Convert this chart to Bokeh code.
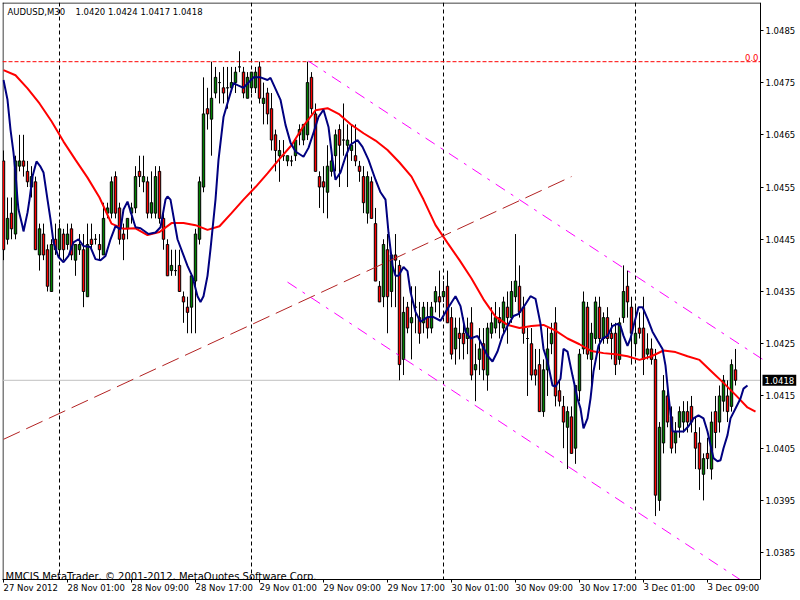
from bokeh.plotting import figure
from bokeh.models import ColumnDataSource, FixedTicker, Span, Label, Range1d, PrintfTickFormatter
from bokeh.embed import file_html
from bokeh.resources import INLINE

# ---------------- data ----------------
symbol_text = "AUDUSD,M30"
last_bar_text = "1.0420 1.0424 1.0417 1.0418"
copyright_text = "MMCIS MetaTrader, \u00a9 2001-2012, MetaQuotes Software Corp."

bar_open = [
    1.0460, 1.0445, 1.0450, 1.0446, 1.0459, 1.0460, 1.0458, 1.0455, 1.0456, 1.0442,
    1.0446, 1.0443, 1.0435, 1.0445, 1.0443, 1.0446, 1.0444, 1.0447, 1.0441, 1.0443,
    1.0443, 1.0434, 1.0445, 1.0445, 1.0444, 1.0442, 1.0450, 1.0450, 1.0457, 1.0451,
    1.0446, 1.0447, 1.0450, 1.0451, 1.0458, 1.0456, 1.0456, 1.0450, 1.0450, 1.0458,
    1.0449, 1.0444, 1.0439, 1.0439, 1.0440, 1.0434, 1.0432, 1.0432, 1.0437, 1.0445,
    1.0455, 1.0470, 1.0468, 1.0473, 1.0475, 1.0474, 1.0474, 1.0474, 1.0475, 1.0478,
    1.0477, 1.0472, 1.0474, 1.0474, 1.0478, 1.0471, 1.0473, 1.0470, 1.0465, 1.0461,
    1.0461, 1.0460, 1.0460, 1.0461, 1.0465, 1.0464, 1.0465, 1.0476, 1.0469, 1.0457,
    1.0456, 1.0454, 1.0458, 1.0461, 1.0466, 1.0464, 1.0463, 1.0462, 1.0461, 1.0459,
    1.0457, 1.0450, 1.0456, 1.0448, 1.0436, 1.0434, 1.0443, 1.0435, 1.0442, 1.0440,
    1.0422, 1.0432, 1.0429, 1.0432, 1.0430, 1.0429, 1.0430, 1.0428, 1.0433, 1.0434,
    1.0434, 1.0436, 1.0430, 1.0424, 1.0427, 1.0427, 1.0426, 1.0429, 1.0420, 1.0422,
    1.0425, 1.0419, 1.0427, 1.0428, 1.0430, 1.0428, 1.0432, 1.0430, 1.0434, 1.0436,
    1.0432, 1.0426, 1.0425, 1.0420, 1.0421, 1.0412, 1.0420, 1.0425, 1.0429, 1.0416,
    1.0413, 1.0409, 1.0411, 1.0405, 1.0416, 1.0424, 1.0432, 1.0422, 1.0426, 1.0432,
    1.0426, 1.0430, 1.0427, 1.0427, 1.0422, 1.0430, 1.0436, 1.0432, 1.0425, 1.0428,
    1.0428, 1.0423, 1.0424, 1.0422, 1.0395, 1.0406, 1.0415, 1.0411, 1.0406, 1.0409,
    1.0410, 1.0412, 1.0413, 1.0408, 1.0406, 1.0400, 1.0404, 1.0401, 1.0412, 1.0410,
    1.0414, 1.0415, 1.0413, 1.0420]

bar_high = [
    1.0462, 1.0453, 1.0453, 1.0461, 1.0465, 1.0465, 1.0460, 1.0459, 1.0457, 1.0448,
    1.0448, 1.0444, 1.0445, 1.0448, 1.0448, 1.0447, 1.0448, 1.0448, 1.0444, 1.0446,
    1.0446, 1.0448, 1.0448, 1.0446, 1.0446, 1.0452, 1.0452, 1.0457, 1.0458, 1.0452,
    1.0448, 1.0449, 1.0452, 1.0459, 1.0461, 1.0461, 1.0457, 1.0458, 1.0459, 1.0459,
    1.0450, 1.0445, 1.0443, 1.0443, 1.0443, 1.0435, 1.0434, 1.0438, 1.0447, 1.0457,
    1.0476, 1.0474, 1.0479, 1.0478, 1.0477, 1.0478, 1.0478, 1.0478, 1.0478, 1.0481,
    1.0478, 1.0477, 1.0477, 1.0478, 1.0479, 1.0475, 1.0474, 1.0473, 1.0466, 1.0464,
    1.0464, 1.0461, 1.0461, 1.0464, 1.0467, 1.0467, 1.0479, 1.0477, 1.0471, 1.0458,
    1.0459, 1.0463, 1.0461, 1.0466, 1.0467, 1.0471, 1.0467, 1.0467, 1.0467, 1.0460,
    1.0459, 1.0458, 1.0457, 1.0451, 1.0437, 1.0445, 1.0446, 1.0442, 1.0446, 1.0441,
    1.0434, 1.0433, 1.0436, 1.0436, 1.0433, 1.0433, 1.0433, 1.0433, 1.0436, 1.0439,
    1.0437, 1.0439, 1.0432, 1.0430, 1.0430, 1.0430, 1.0430, 1.0432, 1.0425, 1.0428,
    1.0428, 1.0429, 1.0432, 1.0433, 1.0432, 1.0434, 1.0435, 1.0437, 1.0446, 1.0440,
    1.0434, 1.0428, 1.0428, 1.0424, 1.0424, 1.0422, 1.0428, 1.0429, 1.0432, 1.0418,
    1.0415, 1.0413, 1.0413, 1.0417, 1.0424, 1.0435, 1.0433, 1.0429, 1.0434, 1.0434,
    1.0431, 1.0432, 1.0429, 1.0429, 1.0430, 1.0440, 1.0439, 1.0434, 1.0432, 1.0431,
    1.0434, 1.0427, 1.0426, 1.0424, 1.0410, 1.0419, 1.0418, 1.0413, 1.0410, 1.0413,
    1.0414, 1.0414, 1.0415, 1.0411, 1.0409, 1.0404, 1.0407, 1.0412, 1.0415, 1.0417,
    1.0419, 1.0418, 1.0422, 1.0424]

bar_low = [
    1.0441, 1.0444, 1.0445, 1.0445, 1.0458, 1.0457, 1.0455, 1.0453, 1.0443, 1.0439,
    1.0441, 1.0435, 1.0435, 1.0442, 1.0442, 1.0441, 1.0443, 1.0441, 1.0438, 1.0442,
    1.0432, 1.0434, 1.0443, 1.0444, 1.0441, 1.0442, 1.0449, 1.0449, 1.0449, 1.0444,
    1.0441, 1.0445, 1.0448, 1.0450, 1.0455, 1.0454, 1.0449, 1.0449, 1.0449, 1.0448,
    1.0443, 1.0438, 1.0438, 1.0438, 1.0435, 1.0429, 1.0427, 1.0427, 1.0427, 1.0444,
    1.0454, 1.0466, 1.0461, 1.0472, 1.0471, 1.0471, 1.0470, 1.0474, 1.0473, 1.0477,
    1.0472, 1.0472, 1.0473, 1.0473, 1.0471, 1.0467, 1.0467, 1.0462, 1.0458, 1.0456,
    1.0460, 1.0459, 1.0459, 1.0460, 1.0463, 1.0463, 1.0464, 1.0469, 1.0458, 1.0451,
    1.0450, 1.0449, 1.0457, 1.0458, 1.0455, 1.0461, 1.0455, 1.0460, 1.0459, 1.0456,
    1.0450, 1.0448, 1.0449, 1.0437, 1.0433, 1.0432, 1.0427, 1.0432, 1.0432, 1.0418,
    1.0419, 1.0427, 1.0422, 1.0427, 1.0425, 1.0427, 1.0426, 1.0427, 1.0431, 1.0430,
    1.0433, 1.0429, 1.0422, 1.0421, 1.0422, 1.0422, 1.0423, 1.0418, 1.0414, 1.0419,
    1.0418, 1.0416, 1.0426, 1.0427, 1.0426, 1.0427, 1.0425, 1.0429, 1.0433, 1.0430,
    1.0425, 1.0415, 1.0418, 1.0417, 1.0412, 1.0411, 1.0415, 1.0423, 1.0413, 1.0413,
    1.0405, 1.0401, 1.0404, 1.0402, 1.0414, 1.0423, 1.0422, 1.0416, 1.0425, 1.0420,
    1.0425, 1.0425, 1.0422, 1.0419, 1.0421, 1.0429, 1.0430, 1.0421, 1.0423, 1.0426,
    1.0419, 1.0422, 1.0421, 1.0392, 1.0393, 1.0404, 1.0409, 1.0404, 1.0404, 1.0407,
    1.0408, 1.0408, 1.0408, 1.0401, 1.0397, 1.0395, 1.0401, 1.0399, 1.0405, 1.0408,
    1.0412, 1.0410, 1.0412, 1.0417]

bar_close = [
    1.0443, 1.0449, 1.0447, 1.0460, 1.0460, 1.0459, 1.0456, 1.0457, 1.0443, 1.0447,
    1.0442, 1.0436, 1.0444, 1.0443, 1.0447, 1.0443, 1.0446, 1.0442, 1.0444, 1.0444,
    1.0435, 1.0444, 1.0444, 1.0445, 1.0443, 1.0449, 1.0451, 1.0456, 1.0450, 1.0445,
    1.0445, 1.0449, 1.0451, 1.0457, 1.0457, 1.0457, 1.0450, 1.0452, 1.0457, 1.0449,
    1.0445, 1.0438, 1.0440, 1.0439, 1.0435, 1.0433, 1.0431, 1.0438, 1.0446, 1.0456,
    1.0469, 1.0469, 1.0472, 1.0476, 1.0475, 1.0473, 1.0474, 1.0475, 1.0477, 1.0478,
    1.0473, 1.0476, 1.0477, 1.0477, 1.0472, 1.0472, 1.0469, 1.0464, 1.0462, 1.0462,
    1.0461, 1.0461, 1.0460, 1.0464, 1.0466, 1.0467, 1.0475, 1.0470, 1.0458, 1.0455,
    1.0455, 1.0459, 1.0460, 1.0465, 1.0463, 1.0464, 1.0464, 1.0463, 1.0460, 1.0458,
    1.0452, 1.0457, 1.0449, 1.0437, 1.0433, 1.0444, 1.0434, 1.0442, 1.0441, 1.0421,
    1.0431, 1.0428, 1.0430, 1.0432, 1.0427, 1.0432, 1.0428, 1.0432, 1.0435, 1.0433,
    1.0435, 1.0429, 1.0423, 1.0428, 1.0426, 1.0425, 1.0428, 1.0419, 1.0421, 1.0424,
    1.0420, 1.0428, 1.0429, 1.0430, 1.0429, 1.0433, 1.0430, 1.0435, 1.0437, 1.0431,
    1.0427, 1.0426, 1.0419, 1.0419, 1.0412, 1.0420, 1.0424, 1.0427, 1.0415, 1.0414,
    1.0410, 1.0412, 1.0404, 1.0417, 1.0423, 1.0433, 1.0423, 1.0427, 1.0433, 1.0426,
    1.0430, 1.0426, 1.0426, 1.0421, 1.0429, 1.0435, 1.0433, 1.0427, 1.0427, 1.0427,
    1.0422, 1.0424, 1.0422, 1.0396, 1.0409, 1.0416, 1.0410, 1.0405, 1.0408, 1.0412,
    1.0412, 1.0410, 1.0410, 1.0405, 1.0401, 1.0403, 1.0403, 1.0410, 1.0408, 1.0415,
    1.0418, 1.0412, 1.0421, 1.0418]

# slow (red) moving average, read every 3 bars (drawn shifted forward)
slow_ma_bar = [
    0, 3, 6, 9, 12, 15, 18, 21, 24, 27,
    30, 33, 36, 39, 42, 45, 48, 51, 54, 57,
    60, 63, 66, 69, 72, 75, 78, 81, 84, 87,
    90, 93, 96, 99, 102, 105, 108, 111, 114, 117,
    120, 123, 126, 129, 132, 135, 138, 141, 144, 147,
    150, 153, 156, 159, 162, 165, 168, 171, 174, 177,
    180, 183, 186, 188]
slow_ma = [
    1.04774, 1.04764, 1.04739, 1.04710, 1.04676, 1.04637, 1.04602, 1.04568, 1.04530, 1.04480,
    1.04470, 1.04471, 1.04458, 1.04464, 1.04481, 1.04481, 1.04477, 1.04468, 1.04475, 1.04500,
    1.04526, 1.04550, 1.04576, 1.04604, 1.04630, 1.04667, 1.04697, 1.04701, 1.04689, 1.04669,
    1.04653, 1.04639, 1.04621, 1.04597, 1.04570, 1.04526, 1.04477, 1.04443, 1.04410, 1.04375,
    1.04335, 1.04302, 1.04286, 1.04280, 1.04284, 1.04286, 1.04275, 1.04260, 1.04249, 1.04236,
    1.04232, 1.04230, 1.04226, 1.04219, 1.04226, 1.04237, 1.04234, 1.04226, 1.04219, 1.04197,
    1.04175, 1.04152, 1.04128, 1.04120]

# fast (navy) moving average
fast_ma_bar = [
    0, 1, 1.75, 2.5, 3, 3.5, 3.75, 4.75, 5, 6,
    6.5, 7.25, 8.25, 9.25, 10, 11, 11.75, 12.5, 13.75, 15,
    16.25, 17.5, 18.75, 20, 21.75, 23, 24.25, 25.5, 26.75, 28,
    29.25, 30, 31, 33, 34.25, 36.25, 38, 39.25, 40.5, 41,
    41.75, 43.5, 46, 47.25, 48.5, 49.25, 50, 51, 51.75, 52.5,
    53, 53.75, 55, 56.25, 57.5, 58.5, 60, 62.5, 64.25, 66,
    66.75, 69.25, 70.5, 71.75, 73, 75, 76.25, 77.5, 78.75, 80,
    81.25, 82.25, 83, 84.25, 85.5, 86.75, 88.5, 89.75, 91.25, 93,
    94.25, 95.5, 96.25, 97.25, 98, 98.75, 100, 101, 101.75, 103,
    104.25, 106, 107.5, 109.25, 111, 113, 114.25, 115.5, 116.75, 118.5,
    119.75, 121, 122.25, 123.5, 124.75, 126, 127.5, 128.75, 130, 131.75,
    133, 134.25, 135, 136, 137.25, 138, 139.25, 140, 141, 142.25,
    143.5, 144.25, 145, 146, 146.75, 147.5, 148.75, 149.75, 151, 152.25,
    153.5, 154.25, 155, 156, 156.75, 157.5, 158.75, 159.75, 161, 162.25,
    163.5, 164.75, 165.5, 166.25, 167.25, 168.5, 170, 171.25, 172.5, 173.75,
    175, 176, 176.75, 177.5, 178.5, 179.25, 180, 181, 181.75, 183,
    184.25, 185, 186]
fast_ma = [
    1.04755, 1.04717, 1.04660, 1.04616, 1.04578, 1.04526, 1.04507, 1.04475, 1.04465, 1.04501,
    1.04526, 1.04570, 1.04599, 1.04589, 1.04578, 1.04526, 1.04488, 1.04444, 1.04416, 1.04406,
    1.04418, 1.04444, 1.04450, 1.04437, 1.04435, 1.04412, 1.04410, 1.04418, 1.04450, 1.04475,
    1.04469, 1.04507, 1.04522, 1.04473, 1.04471, 1.04460, 1.04463, 1.04473, 1.04526, 1.04532,
    1.04526, 1.04450, 1.04399, 1.04378, 1.04341, 1.04330, 1.04341, 1.04380, 1.04431, 1.04488,
    1.04526, 1.04602, 1.04684, 1.04717, 1.04749, 1.04745, 1.04740, 1.04760, 1.04760, 1.04755,
    1.04759, 1.04717, 1.04669, 1.04635, 1.04618, 1.04608, 1.04625, 1.04654, 1.04684, 1.04698,
    1.04665, 1.04602, 1.04564, 1.04578, 1.04608, 1.04631, 1.04640, 1.04627, 1.04602, 1.04564,
    1.04540, 1.04526, 1.04463, 1.04399, 1.04380, 1.04380, 1.04397, 1.04389, 1.04349, 1.04311,
    1.04292, 1.04301, 1.04301, 1.04294, 1.04317, 1.04341, 1.04322, 1.04273, 1.04260, 1.04265,
    1.04246, 1.04227, 1.04216, 1.04235, 1.04265, 1.04284, 1.04303, 1.04307, 1.04320, 1.04341,
    1.04336, 1.04288, 1.04240, 1.04216, 1.04170, 1.04168, 1.04183, 1.04240, 1.04235, 1.04189,
    1.04145, 1.04126, 1.04088, 1.04107, 1.04145, 1.04197, 1.04246, 1.04260, 1.04265, 1.04284,
    1.04288, 1.04284, 1.04265, 1.04246, 1.04260, 1.04284, 1.04320, 1.04320, 1.04298, 1.04273,
    1.04256, 1.04240, 1.04208, 1.04151, 1.04082, 1.04082, 1.04082, 1.04092, 1.04107, 1.04113,
    1.04107, 1.04082, 1.04056, 1.04031, 1.04025, 1.04027, 1.04050, 1.04075, 1.04107, 1.04126,
    1.04145, 1.04164, 1.04170]

tick_bars = [0, 16, 32, 48, 64, 80, 96, 112, 128, 144, 160, 176]
tick_labels = ["27 Nov 2012", "28 Nov 01:00", "28 Nov 09:00", "28 Nov 17:00",
               "29 Nov 01:00", "29 Nov 09:00", "29 Nov 17:00", "30 Nov 01:00",
               "30 Nov 09:00", "30 Nov 17:00", "3 Dec 01:00", "3 Dec 09:00"]
day_start_bars = [14, 62, 110, 158]
price_ticks = [1.0385, 1.0395, 1.0405, 1.0415, 1.0425, 1.0435,
               1.0445, 1.0455, 1.0465, 1.0475, 1.0485]

trend_bar = [0, 142]
trend_price = [1.04067, 1.04570]
chan_upper_bar = [76.25, 190]
chan_upper = [1.04791, 1.04219]
chan_lower_bar = [71, 190]
chan_lower = [1.04368, 1.03769]
fib_level = 1.0479
fib_text = "0.0"
bid_price = 1.0418
bid_text = "1.0418"

# visible window: bars / prices
X0, X_EDGE, X1 = -0.25, 189.25, 199.25     # left edge, price-scale edge, right edge
Y0, Y1 = 1.0379857, 1.0490333

# ---------------- figure ----------------
FONT = "DejaVu Sans"
p = figure(width=800, height=600,
           x_range=Range1d(X0, X1), y_range=Range1d(Y0, Y1),
           toolbar_location=None, output_backend="svg", y_axis_location="right",
           min_border=0, min_border_left=2, min_border_top=2,
           min_border_right=0, min_border_bottom=18)
p.background_fill_color = "white"
p.border_fill_color = "white"
p.outline_line_color = None
p.grid.visible = False

yax = p.yaxis[0]
yax.fixed_location = X_EDGE
yax.ticker = FixedTicker(ticks=price_ticks)
yax.formatter = PrintfTickFormatter(format="%.4f")
yax.major_tick_out = 3
yax.major_tick_in = 0
yax.minor_tick_out = 0
yax.minor_tick_in = 0
yax.major_label_standoff = 2
yax.major_label_text_font = FONT
yax.major_label_text_font_size = "8.5px"
yax.major_label_text_color = "black"
yax.axis_line_color = "black"

xax = p.xaxis[0]
xax.bounds = (X0, X_EDGE)
xax.ticker = FixedTicker(ticks=tick_bars)
xax.major_label_overrides = {b: t for b, t in zip(tick_bars, tick_labels)}
xax.major_label_orientation = -0.0001
xax.major_tick_out = 3
xax.major_tick_in = 0
xax.minor_tick_out = 0
xax.minor_tick_in = 0
xax.major_label_standoff = 5
xax.major_label_text_font = FONT
xax.major_label_text_font_size = "8.5px"
xax.major_label_text_color = "black"
xax.axis_line_color = "black"

# frame border (top and left; right = price axis line, bottom = time axis line)
half_px_x = (X1 - X0) / 798 / 2
half_px_y = (Y1 - Y0) / 580 / 2
p.line([X0, X_EDGE], [Y1 - half_px_y, Y1 - half_px_y], line_color="black", line_width=1)
p.line([X0 + half_px_x, X0 + half_px_x], [Y0, Y1], line_color="black", line_width=1)

# background lines
for b in day_start_bars:
    p.add_layout(Span(location=b, dimension="height", line_color="black",
                      line_width=1, line_dash="4 3", level="underlay"))
p.line([X0, X_EDGE], [fib_level, fib_level], line_color="#FF0000", line_width=1, line_dash="4 2")
p.line([X0, X_EDGE], [bid_price, bid_price], line_color="#C0C0C0", line_width=1)

# candles
n = len(bar_close)
src = ColumnDataSource(dict(
    x=list(range(n)), o=bar_open, h=bar_high, l=bar_low, c=bar_close,
    top=[max(a, b) for a, b in zip(bar_open, bar_close)],
    bottom=[min(a, b) for a, b in zip(bar_open, bar_close)],
    color=["#008000" if c >= o else "#FF0000" for o, c in zip(bar_open, bar_close)],
))
p.segment(x0="x", y0="h", x1="x", y1="l", source=src, line_color="black", line_width=1)
p.vbar(x="x", width=0.6, top="top", bottom="bottom", source=src,
       fill_color="color", line_color="black", line_width=1)

# moving averages
p.line(slow_ma_bar, slow_ma, line_color="#FF0000", line_width=2)
p.line(fast_ma_bar, fast_ma, line_color="#000080", line_width=2)

# objects
p.line(trend_bar, trend_price, line_color="#B22222", line_width=1, line_dash="18 7")
p.line(chan_upper_bar, chan_upper, line_color="#FF00FF", line_width=1, line_dash="11 7 3 7")
p.line(chan_lower_bar, chan_lower, line_color="#FF00FF", line_width=1, line_dash="11 7 3 7")

# texts
p.add_layout(Label(x=5, y=568, x_units="screen", y_units="screen", text=symbol_text,
                   text_font=FONT, text_font_size="8.5px", text_color="black",
                   text_baseline="alphabetic", text_align="left"))
p.add_layout(Label(x=73, y=568, x_units="screen", y_units="screen", text=last_bar_text,
                   text_font=FONT, text_font_size="8.5px", text_color="black",
                   text_baseline="alphabetic", text_align="left"))
p.add_layout(Label(x=3, y=3, x_units="screen", y_units="screen", text=copyright_text,
                   text_font=FONT, text_font_size="10px", text_color="black",
                   text_baseline="alphabetic", text_align="left"))
p.add_layout(Label(x=X_EDGE, y=fib_level, x_offset=-2, y_offset=1, text=fib_text,
                   text_font=FONT, text_font_size="8.5px", text_color="#FF0000",
                   text_baseline="bottom", text_align="right"))
p.add_layout(Label(x=X_EDGE, y=bid_price, x_offset=2, text=bid_text,
                   text_font=FONT, text_font_size="8.5px", text_color="white",
                   text_baseline="middle", text_align="left",
                   background_fill_color="black", padding=2))

open("out.html", "w").write(file_html(p, INLINE))
